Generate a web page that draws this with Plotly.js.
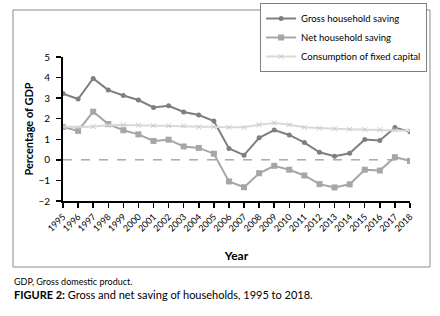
<!DOCTYPE html>
<html>
<head>
<meta charset="utf-8">
<script src="https://cdn.plot.ly/plotly-3.0.1.min.js"></script>
<style>
  html, body { margin: 0; padding: 0; background: #ffffff; }
  #chart { width: 440px; height: 316px; }
</style>
</head>
<body>
<div id="chart"></div>
<script>
const years = [1995,1996,1997,1998,1999,2000,2001,2002,2003,2004,2005,2006,2007,2008,2009,2010,2011,2012,2013,2014,2015,2016,2017,2018];
const tickLabels = years.map(String);
const grossSaving = [3.22,2.96,3.96,3.39,3.13,2.91,2.55,2.63,2.33,2.18,1.89,0.55,0.23,1.07,1.45,1.21,0.84,0.37,0.18,0.32,0.99,0.94,1.57,1.37];
const netSaving = [1.60,1.41,2.34,1.74,1.44,1.24,0.92,0.98,0.65,0.58,0.30,-1.05,-1.33,-0.65,-0.29,-0.48,-0.76,-1.18,-1.34,-1.19,-0.48,-0.52,0.13,-0.05];
const fixedCapital = [1.62,1.58,1.62,1.68,1.70,1.68,1.66,1.66,1.65,1.60,1.60,1.58,1.58,1.71,1.79,1.71,1.58,1.53,1.51,1.49,1.47,1.47,1.45,1.42];
const seriesNames = ['Gross household saving','Net household saving','Consumption of fixed capital'];
const yTicks = [-2,-1,0,1,2,3,4,5];

const FONT = 'Lato, "Open Sans", sans-serif';

const traces = [
  {
    x: years, y: grossSaving, name: seriesNames[0], type: 'scatter', mode: 'lines+markers',
    line: {color: '#7f7f7f', width: 2},
    marker: {symbol: 'circle', size: 5, color: '#7f7f7f'}
  },
  {
    x: years, y: netSaving, name: seriesNames[1], type: 'scatter', mode: 'lines+markers',
    line: {color: '#a6a6a6', width: 2},
    marker: {symbol: 'square', size: 6, color: '#a6a6a6'}
  },
  {
    x: years, y: fixedCapital, name: seriesNames[2], type: 'scatter', mode: 'lines+markers',
    line: {color: '#d9d9d9', width: 2},
    marker: {symbol: 'x-thin', size: 5, color: '#c8c8c8', line: {color: '#c8c8c8', width: 1}}
  }
];

const layout = {
  width: 440, height: 316,
  margin: {l: 63, r: 30, t: 57, b: 115, pad: 0, autoexpand: false},
  paper_bgcolor: '#ffffff', plot_bgcolor: '#ffffff',
  font: {family: FONT, color: '#000000', size: 10},
  showlegend: true,
  legend: {
    x: 0.568, y: 1.375, xanchor: 'left', yanchor: 'top',
    bgcolor: '#ffffff', bordercolor: '#7f7f7f', borderwidth: 1,
    font: {family: FONT, size: 9.5, color: '#000000'},
    tracegroupgap: 0, itemwidth: 30
  },
  xaxis: {
    range: [1995, 2018],
    tickmode: 'array', tickvals: years, ticktext: tickLabels,
    tickangle: -45, tickfont: {family: FONT, size: 9, color: '#000000'},
    ticks: 'outside', ticklen: 5, tickwidth: 1.5, tickcolor: '#000000',
    showline: true, linecolor: '#000000', linewidth: 2,
    showgrid: false, zeroline: false,
    title: {text: 'Year', font: {family: FONT, size: 12, color: '#000000', weight: 'bold'}, standoff: 19}
  },
  yaxis: {
    range: [-2, 5],
    tickmode: 'array', tickvals: yTicks,
    tickfont: {family: FONT, size: 10, color: '#000000'},
    ticks: 'outside', ticklen: 5, tickwidth: 1.5, tickcolor: '#000000',
    ticklabelstandoff: 4,
    showline: true, linecolor: '#000000', linewidth: 2,
    showgrid: false, zeroline: false,
    title: {text: 'Percentage of GDP', font: {family: FONT, size: 11, color: '#000000', weight: 'bold'}, standoff: 3}
  },
  shapes: [
    {type: 'line', xref: 'paper', yref: 'y', x0: 0, x1: 1, y0: 0, y1: 0,
     line: {color: '#808080', width: 1, dash: 'dash'}, layer: 'below'},
    {type: 'rect', xref: 'paper', yref: 'paper', x0: -0.1441, x1: 1.0576, y0: -0.4583, y1: 1.3264,
     line: {color: '#8c8c8c', width: 1}, fillcolor: 'rgba(0,0,0,0)', layer: 'below'}
  ],
  annotations: [
    {xref: 'paper', yref: 'paper', x: -0.1441, y: -0.5590, xanchor: 'left', yanchor: 'middle',
     text: 'GDP, Gross domestic product.', showarrow: false, borderpad: 0,
     font: {family: FONT, size: 9, color: '#000000'}},
    {xref: 'paper', yref: 'paper', x: -0.1441, y: -0.6493, xanchor: 'left', yanchor: 'middle',
     text: '<b>FIGURE 2:</b> Gross and net saving of households, 1995 to 2018.', showarrow: false, borderpad: 0,
     font: {family: FONT, size: 11, color: '#000000'}}
  ]
};

Plotly.newPlot('chart', traces, layout, {displayModeBar: false, staticPlot: true});
</script>
</body>
</html>
